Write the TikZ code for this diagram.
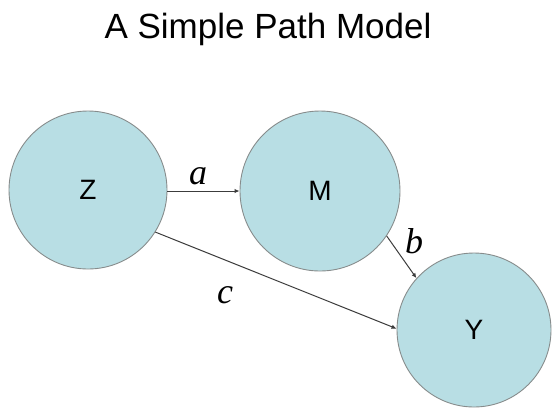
\documentclass[tikz,border=0pt]{standalone}
\usepackage{fontspec}
\setmainfont{Liberation Sans}
\newfontfamily\timesfont{Liberation Serif}
\usetikzlibrary{arrows.meta}
\definecolor{nodefill}{RGB}{184,222,228}
\definecolor{nodeline}{RGB}{135,140,140}
\definecolor{arrowcol}{RGB}{60,60,60}
\tikzset{
  varnode/.style={circle, draw=nodeline, line width=0.9pt, fill=nodefill, inner sep=0pt, font=\fontsize{28}{30}\selectfont},
  pathlabel/.style={anchor=base, inner sep=0pt, font=\timesfont\itshape\fontsize{36}{38}\selectfont},
  patharrow/.style={draw=arrowcol, line width=1pt, -{Latex[length=5pt,width=4.5pt]}},
  titletext/.style={anchor=base, inner sep=0pt, font=\fontsize{35}{40}\selectfont}
}
\begin{document}
\begin{tikzpicture}[x=1pt,y=-1pt]
\useasboundingbox (0,0) rectangle (553,408);
\node[titletext] (title) at (268,38) {A Simple Path Model};
\node[varnode, minimum size=158pt] (Z) at (88,190) {Z};
\node[varnode, minimum size=160pt] (M) at (320,191) {M};
\node[varnode, minimum size=154pt] (Y) at (474,330) {Y};
\draw[patharrow] (Z.east |- M.west) -- (M.west);
\draw[patharrow] (M.-34) -- (Y.138);
\draw[patharrow] (Z.-32) -- (Y.179);
\node[pathlabel] (la) at (198,184) {a};
\node[pathlabel] (lb) at (414,253) {b};
\node[pathlabel] (lc) at (225,303) {c};
\end{tikzpicture}
\end{document}
